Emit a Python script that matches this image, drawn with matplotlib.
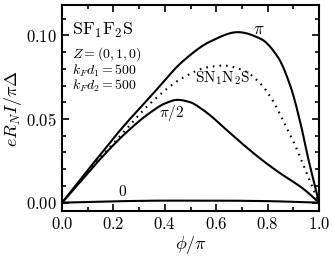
import numpy as np
import matplotlib
matplotlib.use('Agg')
import matplotlib.pyplot as plt
from matplotlib.ticker import MultipleLocator, FuncFormatter

plt.rcParams['mathtext.fontset'] = 'cm'
plt.rcParams['font.family'] = 'serif'
plt.rcParams['font.serif'] = ['DejaVu Serif']

# phase phi/pi and current e R_N I / pi Delta
phi_pi = [0.0, 0.1, 0.148, 0.227, 0.344, 0.473, 0.578, 0.684, 0.773, 0.84, 0.89, 0.93, 0.957, 1.0]
I_pi = [0.0, 0.0195, 0.0285, 0.0435, 0.0635, 0.085, 0.0965, 0.102, 0.098, 0.087, 0.069, 0.046, 0.027, 0.0]

phi_half = [0.0, 0.1, 0.148, 0.25, 0.344, 0.40, 0.449, 0.50, 0.539, 0.578, 0.64, 0.707, 0.77, 0.84, 0.941, 1.0]
I_half = [0.0, 0.0175, 0.026, 0.042, 0.054, 0.0593, 0.0615, 0.060, 0.0565, 0.052, 0.0435, 0.0345, 0.0265, 0.0185, 0.008, 0.0]

phi_sn = [0.0, 0.1, 0.227, 0.344, 0.473, 0.566, 0.629, 0.707, 0.773, 0.824, 0.879, 0.902, 0.957, 1.0]
I_sn = [0.0, 0.0185, 0.040, 0.0595, 0.075, 0.081, 0.082, 0.079, 0.071, 0.060, 0.043, 0.036, 0.0155, 0.0]

phi_zero = [0.0, 0.2, 0.4, 0.6, 0.8, 0.9, 1.0]
I_zero = [0.0, 0.0008, 0.0012, 0.0012, 0.0009, 0.0005, 0.0]


def pchip(x, y, n=400):
    # Fritsch-Carlson monotone cubic through the read points
    x = np.asarray(x, float); y = np.asarray(y, float)
    h = np.diff(x); delta = np.diff(y) / h
    d = np.zeros_like(y)
    for k in range(1, len(x) - 1):
        if delta[k - 1] * delta[k] > 0:
            w1 = 2*h[k] + h[k - 1]; w2 = h[k] + 2*h[k - 1]
            d[k] = (w1 + w2) / (w1/delta[k - 1] + w2/delta[k])
    d[0] = delta[0]; d[-1] = delta[-1]
    xs = np.linspace(x[0], x[-1], n)
    i = np.clip(np.searchsorted(x, xs) - 1, 0, len(x) - 2)
    t = (xs - x[i]) / h[i]
    ys = ((2*t**3 - 3*t**2 + 1)*y[i] + (t**3 - 2*t**2 + t)*h[i]*d[i]
          + (-2*t**3 + 3*t**2)*y[i + 1] + (t**3 - t**2)*h[i]*d[i + 1])
    return xs, ys


fig = plt.figure(figsize=(3.32, 2.57), dpi=100)
ax = fig.add_axes([0.187, 0.179, 0.774, 0.800])

for x, y in [(phi_pi, I_pi), (phi_half, I_half), (phi_zero, I_zero)]:
    xs, ys = pchip(x, y)
    ax.plot(xs, ys, color='black', lw=1.5)
xs, ys = pchip(phi_sn, I_sn)
ax.plot(xs, ys, color='black', lw=1.5, ls=(0, (0.8, 2.4)))

ax.set_xlim(0, 1)
ax.set_ylim(-0.005, 0.118)
ax.xaxis.set_major_locator(MultipleLocator(0.2))
ax.xaxis.set_minor_locator(MultipleLocator(0.1))
ax.yaxis.set_major_locator(MultipleLocator(0.05))
ax.yaxis.set_minor_locator(MultipleLocator(0.01))
ax.xaxis.set_major_formatter(FuncFormatter(lambda v, p: r'$%.1f$' % v))
ax.yaxis.set_major_formatter(FuncFormatter(lambda v, p: r'$%.2f$' % v))
ax.tick_params(which='both', direction='in', top=True, right=True, width=1.2, labelsize=12)
ax.tick_params(which='major', length=5)
ax.tick_params(which='minor', length=3)
for s in ax.spines.values():
    s.set_linewidth(1.5)

ax.set_xlabel(r'$\phi/\pi$', fontsize=13, labelpad=1)
ax.set_ylabel(r'$eR_NI/\pi\Delta$', fontsize=13, labelpad=2)

ax.text(0.04, 0.879, r'$\mathrm{SF_1F_2S}$', transform=ax.transAxes, fontsize=13, va='center')
ax.text(0.04, 0.762, r'$Z=(0,1,0)$', transform=ax.transAxes, fontsize=10, va='center')
ax.text(0.04, 0.684, r'$k_Fd_1=500$', transform=ax.transAxes, fontsize=10, va='center')
ax.text(0.04, 0.607, r'$k_Fd_2=500$', transform=ax.transAxes, fontsize=10, va='center')

ax.text(0.766, 0.1035, r'$\pi$', fontsize=12, ha='center', va='center')
ax.text(0.625, 0.0745, r'$\mathrm{SN_1N_2S}$', fontsize=11, ha='center', va='center')
ax.text(0.426, 0.0536, r'$\pi/2$', fontsize=11, ha='center', va='center')
ax.text(0.234, 0.0065, r'$0$', fontsize=11, ha='center', va='center')

fig.savefig('out.png', dpi=100)
